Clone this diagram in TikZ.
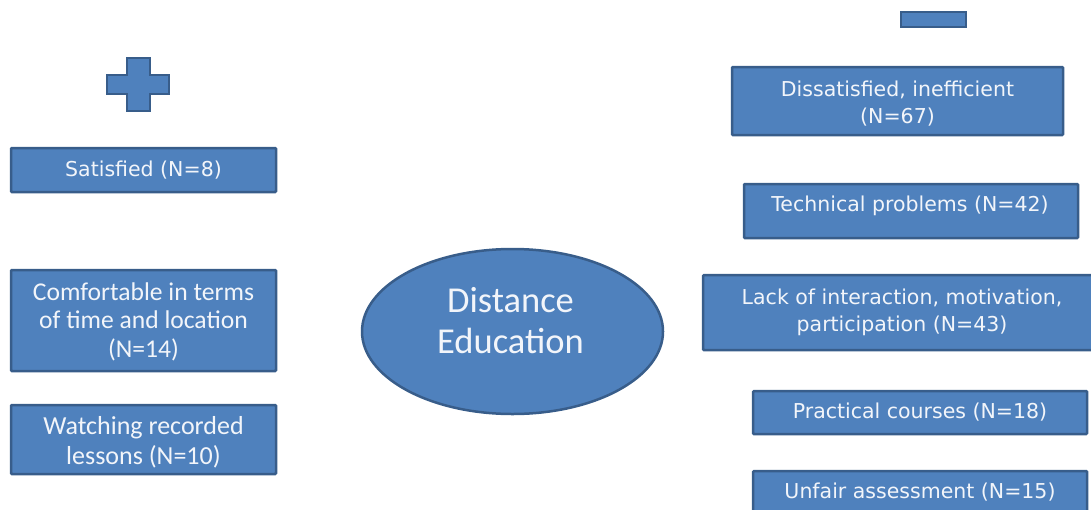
\documentclass[tikz,border=0pt]{standalone}
\usepackage{fontspec}
\usetikzlibrary{shapes.geometric}
\setmainfont{DejaVu Sans}
\newfontfamily\calib{Carlito}
\definecolor{fillblue}{HTML}{4F81BD}
\definecolor{edgeblue}{HTML}{385D8A}
\definecolor{txt}{HTML}{F2F5FA}
\begin{document}
\begin{tikzpicture}[x=1pt,y=-1pt,
  box/.style={draw=edgeblue, fill=fillblue, line width=2.5pt, text=txt, align=center, inner sep=0pt, rounded corners=1pt},
  lbl/.style={text=txt, align=center, inner sep=0pt},
  sign/.style={draw=edgeblue, fill=fillblue, line width=2.5pt},
  dj/.style={font=\fontsize{20.5}{27}\selectfont},
  cb/.style={font=\calib\fontsize{25.6}{28.5}\selectfont},
  cbw/.style={font=\calib\fontsize{26}{30}\selectfont},
  big/.style={font=\calib\fontsize{36.5}{41}\selectfont, text=txt, align=center}]
\useasboundingbox (0,0) rectangle (1091,509);
\clip (0,0) rectangle (1091,509);
% plus sign
\draw[sign] (127,58) -- (150,58) -- (150,75) -- (169,75) -- (169,94) -- (150,94) -- (150,111) -- (127,111) -- (127,94) -- (107,94) -- (107,75) -- (127,75) -- cycle;
% minus sign
\node[sign, rectangle, minimum width=65pt, minimum height=15pt, inner sep=0pt] (minus) at (933.5,19.5) {};
% left boxes
\node[box, dj, minimum width=265pt, minimum height=44pt] (sat) at (143.5,170) {Satisfied (N=8)};
\node[box, minimum width=265pt, minimum height=101pt] (comf) at (143.5,320.5) {};
\node[lbl, cb] (comftxt) at (143.5,321.5) {Comfortable in terms\\of time and location\\(N=14)};
\node[box, minimum width=265pt, minimum height=69pt] (watch) at (143.5,439.5) {};
\node[lbl, cbw] (watchtxt) at (143.5,442.5) {Watching recorded\\lessons (N=10)};
% centre
\node[ellipse, draw=edgeblue, fill=fillblue, line width=2.5pt, minimum width=301pt, minimum height=165pt, inner sep=0pt] (de) at (512.5,331.5) {};
\node[big] (detxt) at (510.5,320.5) {Distance\\Education};
% right boxes
\node[box, minimum width=331pt, minimum height=68pt] (diss) at (897.5,101) {};
\node[lbl, dj] (disstxt) at (897.5,104) {Dissatisfied, inefficient\\(N=67)};
\node[box, minimum width=334pt, minimum height=54pt] (tech) at (911,211) {};
\node[lbl, dj] (techtxt) at (910,206) {Technical problems (N=42)};
\node[box, dj, minimum width=398pt, minimum height=75pt] (lack) at (902,312.5) {Lack of interaction, motivation,\\participation (N=43)};
\node[box, dj, minimum width=334pt, minimum height=43pt] (prac) at (920,412.5) {Practical courses (N=18)};
\node[box, dj, minimum width=334pt, minimum height=42pt] (unf) at (920,492) {Unfair assessment (N=15)};
\end{tikzpicture}
\end{document}
